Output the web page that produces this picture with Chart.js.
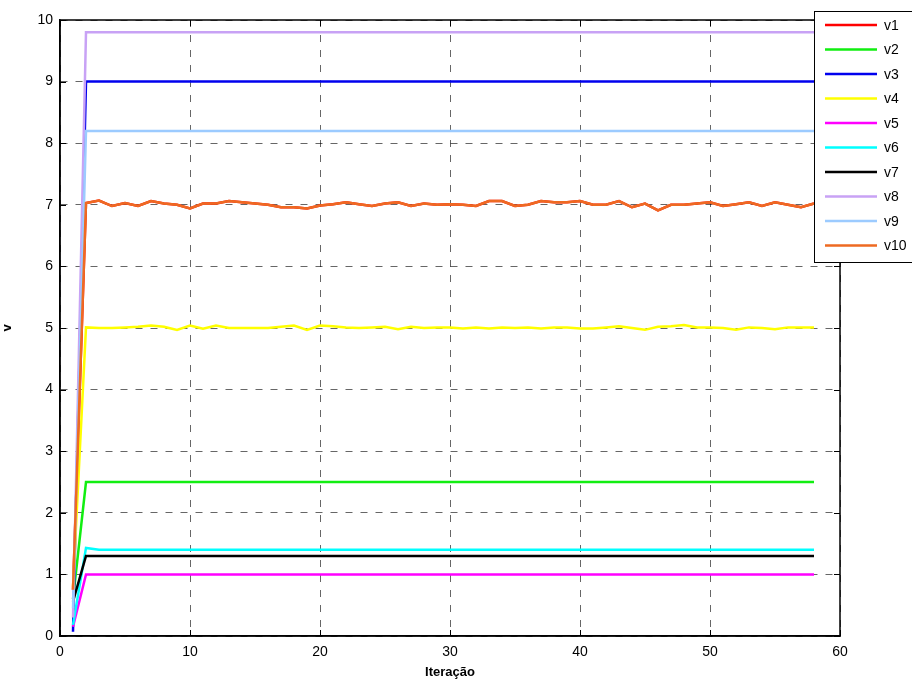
<!DOCTYPE html>
<html lang="pt">
  <head>
    <meta charset="UTF-8" />
    <title>v por iteração</title>
    <script src="https://cdn.jsdelivr.net/npm/chart.js"></script>
    <style>
      body { margin: 0; background: #fff; }
    </style>
  </head>
  <body>
    <canvas id="grafico" width="912" height="684"></canvas>
    <script>
      // eixo x
      const iteracao = [1, 2, 3, 4, 5, 6, 7, 8, 9, 10, 11, 12, 13, 14, 15, 16, 17, 18, 19, 20,
        21, 22, 23, 24, 25, 26, 27, 28, 29, 30, 31, 32, 33, 34, 35, 36, 37, 38, 39, 40,
        41, 42, 43, 44, 45, 46, 47, 48, 49, 50, 51, 52, 53, 54, 55, 56, 57, 58];

      const nomes = ["v1", "v2", "v3", "v4", "v5", "v6", "v7", "v8", "v9", "v10"];
      const cores = ["#ff0000", "#11ee11", "#0000ee", "#ffff00", "#ff00ff",
        "#00ffff", "#000000", "#c8a2f5", "#9ccbff", "#ee6a22"];

      const v1 = [0.75, 7.03, 7.07, 6.98, 7.03, 6.98, 7.06, 7.02, 7.0, 6.94, 7.02, 7.02, 7.06, 7.04, 7.02,
        7.0, 6.96, 6.96, 6.94, 6.99, 7.01, 7.04, 7.01, 6.98, 7.02, 7.04, 6.98, 7.02, 7.0, 7.01,
        7.0, 6.98, 7.06, 7.06, 6.98, 7.0, 7.06, 7.04, 7.04, 7.06, 7.0, 7.0, 7.06, 6.96, 7.02,
        6.91, 7.0, 7.0, 7.02, 7.04, 6.98, 7.01, 7.04, 6.98, 7.04, 7.0, 6.96, 7.02];
      const v2 = [0.6, 2.5, 2.5, 2.5, 2.5, 2.5, 2.5, 2.5, 2.5, 2.5, 2.5, 2.5, 2.5, 2.5, 2.5,
        2.5, 2.5, 2.5, 2.5, 2.5, 2.5, 2.5, 2.5, 2.5, 2.5, 2.5, 2.5, 2.5, 2.5, 2.5,
        2.5, 2.5, 2.5, 2.5, 2.5, 2.5, 2.5, 2.5, 2.5, 2.5, 2.5, 2.5, 2.5, 2.5, 2.5,
        2.5, 2.5, 2.5, 2.5, 2.5, 2.5, 2.5, 2.5, 2.5, 2.5, 2.5, 2.5, 2.5];
      const v3 = [0.07, 9, 9, 9, 9, 9, 9, 9, 9, 9, 9, 9, 9, 9, 9,
        9, 9, 9, 9, 9, 9, 9, 9, 9, 9, 9, 9, 9, 9, 9,
        9, 9, 9, 9, 9, 9, 9, 9, 9, 9, 9, 9, 9, 9, 9,
        9, 9, 9, 9, 9, 9, 9, 9, 9, 9, 9, 9, 9];
      const v4 = [0.8, 5.01, 5.0, 5.0, 5.01, 5.02, 5.04, 5.02, 4.97, 5.04, 4.99, 5.04, 5.0, 5.0, 5.0,
        5.0, 5.02, 5.04, 4.97, 5.04, 5.03, 5.01, 5.0, 5.01, 5.02, 4.98, 5.02, 5.0, 5.01, 5.01,
        4.99, 5.01, 4.99, 5.01, 5.0, 5.01, 4.99, 5.01, 5.01, 4.99, 4.99, 5.01, 5.03, 5.0, 4.97,
        5.02, 5.03, 5.05, 5.01, 5.01, 5.0, 4.97, 5.01, 5.0, 4.98, 5.01, 5.01, 5.01];
      const v5 = [0.15, 1, 1, 1, 1, 1, 1, 1, 1, 1, 1, 1, 1, 1, 1,
        1, 1, 1, 1, 1, 1, 1, 1, 1, 1, 1, 1, 1, 1, 1,
        1, 1, 1, 1, 1, 1, 1, 1, 1, 1, 1, 1, 1, 1, 1,
        1, 1, 1, 1, 1, 1, 1, 1, 1, 1, 1, 1, 1];
      const v6 = [0.18, 1.43, 1.4, 1.4, 1.4, 1.4, 1.4, 1.4, 1.4, 1.4, 1.4, 1.4, 1.4, 1.4, 1.4,
        1.4, 1.4, 1.4, 1.4, 1.4, 1.4, 1.4, 1.4, 1.4, 1.4, 1.4, 1.4, 1.4, 1.4, 1.4,
        1.4, 1.4, 1.4, 1.4, 1.4, 1.4, 1.4, 1.4, 1.4, 1.4, 1.4, 1.4, 1.4, 1.4, 1.4,
        1.4, 1.4, 1.4, 1.4, 1.4, 1.4, 1.4, 1.4, 1.4, 1.4, 1.4, 1.4, 1.4];
      const v7 = [0.56, 1.3, 1.3, 1.3, 1.3, 1.3, 1.3, 1.3, 1.3, 1.3, 1.3, 1.3, 1.3, 1.3, 1.3,
        1.3, 1.3, 1.3, 1.3, 1.3, 1.3, 1.3, 1.3, 1.3, 1.3, 1.3, 1.3, 1.3, 1.3, 1.3,
        1.3, 1.3, 1.3, 1.3, 1.3, 1.3, 1.3, 1.3, 1.3, 1.3, 1.3, 1.3, 1.3, 1.3, 1.3,
        1.3, 1.3, 1.3, 1.3, 1.3, 1.3, 1.3, 1.3, 1.3, 1.3, 1.3, 1.3, 1.3];
      const v8 = [0.3, 9.8, 9.8, 9.8, 9.8, 9.8, 9.8, 9.8, 9.8, 9.8, 9.8, 9.8, 9.8, 9.8, 9.8,
        9.8, 9.8, 9.8, 9.8, 9.8, 9.8, 9.8, 9.8, 9.8, 9.8, 9.8, 9.8, 9.8, 9.8, 9.8,
        9.8, 9.8, 9.8, 9.8, 9.8, 9.8, 9.8, 9.8, 9.8, 9.8, 9.8, 9.8, 9.8, 9.8, 9.8,
        9.8, 9.8, 9.8, 9.8, 9.8, 9.8, 9.8, 9.8, 9.8, 9.8, 9.8, 9.8, 9.8];
      const v9 = [0.45, 8.2, 8.2, 8.2, 8.2, 8.2, 8.2, 8.2, 8.2, 8.2, 8.2, 8.2, 8.2, 8.2, 8.2,
        8.2, 8.2, 8.2, 8.2, 8.2, 8.2, 8.2, 8.2, 8.2, 8.2, 8.2, 8.2, 8.2, 8.2, 8.2,
        8.2, 8.2, 8.2, 8.2, 8.2, 8.2, 8.2, 8.2, 8.2, 8.2, 8.2, 8.2, 8.2, 8.2, 8.2,
        8.2, 8.2, 8.2, 8.2, 8.2, 8.2, 8.2, 8.2, 8.2, 8.2, 8.2, 8.2, 8.2];
      const v10 = [0.75, 7.03, 7.07, 6.98, 7.03, 6.98, 7.06, 7.02, 7.0, 6.94, 7.02, 7.02, 7.06, 7.04, 7.02,
        7.0, 6.96, 6.96, 6.94, 6.99, 7.01, 7.04, 7.01, 6.98, 7.02, 7.04, 6.98, 7.02, 7.0, 7.01,
        7.0, 6.98, 7.06, 7.06, 6.98, 7.0, 7.06, 7.04, 7.04, 7.06, 7.0, 7.0, 7.06, 6.96, 7.02,
        6.91, 7.0, 7.0, 7.02, 7.04, 6.98, 7.01, 7.04, 6.98, 7.04, 7.0, 6.96, 7.02];

      const series = [v1, v2, v3, v4, v5, v6, v7, v8, v9, v10];

      const fonte = "'Liberation Sans', Arial, sans-serif";

      // moldura fechada, marcas internas e legenda no canto
      const moldura = {
        id: "moldura",
        afterDraw(chart) {
          const ctx = chart.ctx;
          const a = chart.chartArea;
          const sx = chart.scales.x, sy = chart.scales.y;
          ctx.save();
          ctx.strokeStyle = "#000";
          ctx.lineWidth = 1.5;
          ctx.strokeRect(a.left, a.top, a.right - a.left, a.bottom - a.top);
          ctx.lineWidth = 1;
          ctx.beginPath();
          sx.ticks.forEach((t) => {
            const px = Math.round(sx.getPixelForValue(t.value)) + 0.5;
            ctx.moveTo(px, a.bottom); ctx.lineTo(px, a.bottom - 6);
            ctx.moveTo(px, a.top); ctx.lineTo(px, a.top + 6);
          });
          sy.ticks.forEach((t) => {
            const py = Math.round(sy.getPixelForValue(t.value)) + 0.5;
            ctx.moveTo(a.left, py); ctx.lineTo(a.left + 6, py);
            ctx.moveTo(a.right, py); ctx.lineTo(a.right - 6, py);
          });
          ctx.stroke();

          // legenda
          ctx.fillStyle = "#fff";
          ctx.fillRect(814, 11, 110, 251);
          ctx.strokeRect(814.5, 11.5, 110, 251);
          ctx.font = "14px " + fonte;
          ctx.textBaseline = "middle";
          nomes.forEach((n, i) => {
            const y = 25 + i * 24.5;
            ctx.strokeStyle = cores[i];
            ctx.lineWidth = 2.5;
            ctx.beginPath();
            ctx.moveTo(825, y); ctx.lineTo(877, y);
            ctx.stroke();
            ctx.fillStyle = "#000";
            ctx.fillText(n, 884, y + 1);
          });
          ctx.restore();
        },
      };

      new Chart(document.getElementById("grafico"), {
        type: "line",
        data: {
          datasets: series.map((s, i) => ({
            label: nomes[i],
            data: s.map((y, k) => ({ x: iteracao[k], y: y })),
            borderColor: cores[i],
            backgroundColor: cores[i],
            borderWidth: 2.5,
            pointRadius: 0,
            tension: 0,
            fill: false,
            order: nomes.length - i,
          })),
        },
        options: {
          responsive: false,
          animation: false,
          layout: { padding: { top: 20, right: 72, left: 0, bottom: 0 } },
          plugins: { legend: { display: false }, tooltip: { enabled: false } },
          scales: {
            x: {
              type: "linear",
              min: 0,
              max: 60,
              afterFit: (s) => { s.height = 48; },
              ticks: { stepSize: 10, color: "#000", font: { family: fonte, size: 14 }, padding: 8, maxRotation: 0 },
              grid: { color: "rgba(0,0,0,0.6)", drawTicks: false, lineWidth: 1 },
              border: { display: true, color: "#000", width: 1.5, dash: [7, 8] },
              title: { display: true, text: "Iteração", color: "#000", font: { family: fonte, size: 13, weight: "bold" }, padding: { top: 2 } },
            },
            y: {
              min: 0,
              max: 10,
              afterFit: (s) => { s.width = 60; },
              ticks: { stepSize: 1, color: "#000", font: { family: fonte, size: 14 }, padding: 7 },
              grid: { color: "rgba(0,0,0,0.6)", drawTicks: false, lineWidth: 1 },
              border: { display: true, color: "#000", width: 1.5, dash: [7, 8] },
              title: { display: true, text: "v", color: "#000", font: { family: fonte, size: 13, weight: "bold" }, padding: 0 },
            },
          },
        },
        plugins: [moldura],
      });
    </script>
  </body>
</html>
